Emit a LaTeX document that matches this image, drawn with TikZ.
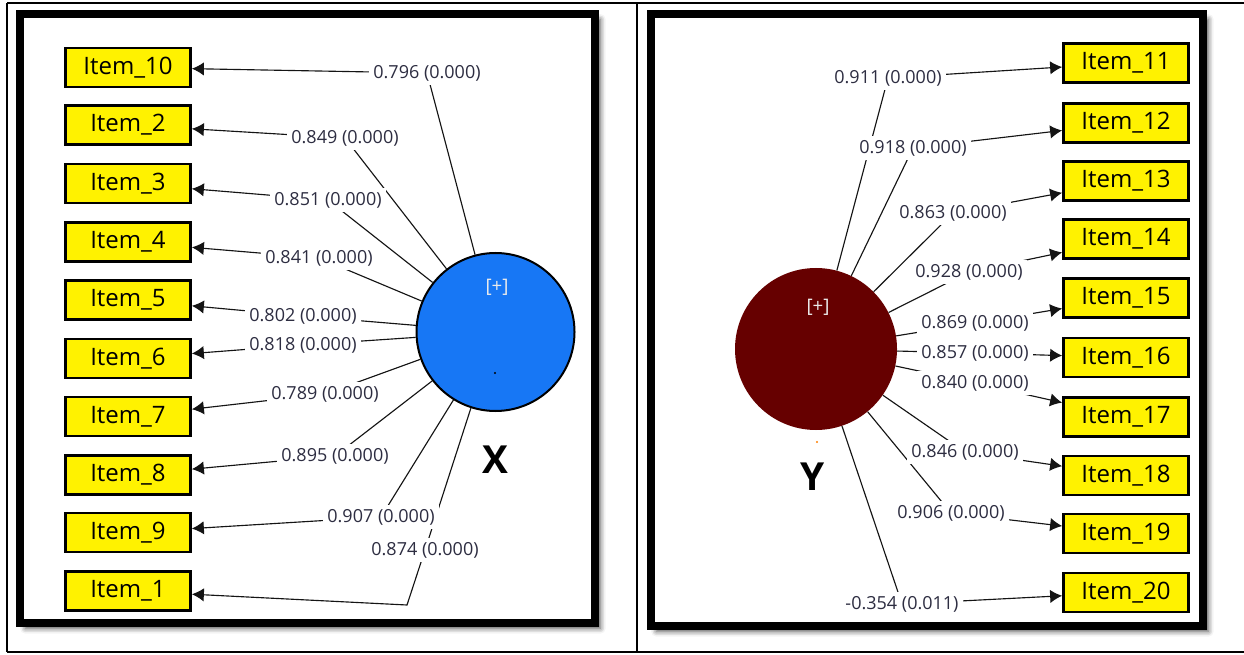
\documentclass[tikz,border=0pt]{standalone}
\usepackage{fontspec}
\setmainfont{Open Sans}
\usetikzlibrary{arrows.meta,shadows.blur}

\definecolor{xblue}{RGB}{23,119,245}
\definecolor{ydark}{RGB}{102,0,0}
\definecolor{loadtxt}{RGB}{45,45,65}

\begin{document}
\begin{tikzpicture}[x=0.75pt,y=0.75pt,yscale=-1,xscale=1,
	itembox/.style={draw=black,fill=yellow,line width=1.8pt,minimum width=94pt,minimum height=29pt,inner sep=0pt,font=\fontsize{18}{20}\selectfont},
	latent/.style={circle,minimum size=118.5pt,inner sep=0pt},
	loadline/.style={draw={rgb,255:red,20;green,20;blue,20},line width=0.85pt,-{Latex[length=9pt,width=10pt]}},
	loadlabel/.style={fill=white,inner sep=3pt,text=loadtxt,font=\fontsize{13.5}{15}\selectfont},
	panel/.style={draw=black,fill=white,line width=6pt,blur shadow={shadow xshift=4pt,shadow yshift=-4pt,shadow blur radius=4pt,shadow opacity=70}},
	plus/.style={text=white!92!black,font=\fontsize{14}{15}\selectfont,inner sep=0pt},
	lvname/.style={font=\bfseries\fontsize{29}{30}\selectfont,inner sep=0pt}
	]
	\useasboundingbox (0,0) rectangle (1244,655);
	
	%Table lines
	\draw [line width=1.5pt] (7,3) -- (1244,3) ;
	\draw [line width=1.5pt] (7,652) -- (1244,652) ;
	\draw [line width=1.5pt] (7,3) -- (7,652) ;
	\draw [line width=1.5pt] (637,3) -- (637,652) ;
	
	%Panels
	\draw [panel] (20,14) rectangle (595,623) ;
	\draw [panel] (651,14) rectangle (1203,626) ;
	
	% Latent variables
	\node [latent,draw=black,line width=1.5pt,fill=xblue] (X) at (495.5,332) {};
	\node [latent,minimum size=121.5pt,fill=ydark] (Y) at (816,349) {};
	\node [plus] (xplus) at (497,287) {[+]};
	\node [plus] (yplus) at (818,307) {[+]};
	\fill [black] (495,373) circle (1.2) ;
	\fill [orange] (817,442) circle (1.2) ;
	\node [lvname] (xname) at (495,460) {X};
	\node [lvname] (yname) at (813,477) {Y};
	
	% Indicators of X
	\node [itembox] (i10) at (128,67.5) {Item\_10};
	\node [itembox] (i2) at (128,125) {Item\_2};
	\node [itembox] (i3) at (128,183.5) {Item\_3};
	\node [itembox] (i4) at (128,242) {Item\_4};
	\node [itembox] (i5) at (128,300) {Item\_5};
	\node [itembox] (i6) at (128,358.5) {Item\_6};
	\node [itembox] (i7) at (128,416.5) {Item\_7};
	\node [itembox] (i8) at (128,475) {Item\_8};
	\node [itembox] (i9) at (128,532.5) {Item\_9};
	\node [itembox] (i1) at (128,591) {Item\_1};
	
	% Indicators of Y
	\node [itembox] (i11) at (1126,63) {Item\_11};
	\node [itembox] (i12) at (1126,123) {Item\_12};
	\node [itembox] (i13) at (1126,181) {Item\_13};
	\node [itembox] (i14) at (1126,239) {Item\_14};
	\node [itembox] (i15) at (1126,298) {Item\_15};
	\node [itembox] (i16) at (1126,357.5) {Item\_16};
	\node [itembox] (i17) at (1126,417) {Item\_17};
	\node [itembox] (i18) at (1126,475.5) {Item\_18};
	\node [itembox] (i19) at (1126,533.5) {Item\_19};
	\node [itembox] (i20) at (1126,592.5) {Item\_20};
	
	% Label points
	\coordinate (b10) at (427,73);
	\coordinate (b2) at (345,138);
	\coordinate (b3) at (328,200);
	\coordinate (b4) at (319,258);
	\coordinate (b5) at (303,316);
	\coordinate (b6) at (303,345);
	\coordinate (b7) at (325,394);
	\coordinate (b8) at (335,456);
	\coordinate (b9) at (381,517);
	\coordinate (b1) at (425,550);
	\coordinate (c1) at (407,605);
	\coordinate (b11) at (888,78);
	\coordinate (b12) at (913,148);
	\coordinate (b13) at (953,213);
	\coordinate (b14) at (969,272);
	\coordinate (b15) at (975,323);
	\coordinate (b16) at (975,353);
	\coordinate (b17) at (975,383);
	\coordinate (b18) at (965,452);
	\coordinate (b19) at (951,513);
	\coordinate (b20) at (902,604);
	
	%Outer loadings X
	\draw [loadline] (X) -- (b10) -- (i10) ;
	\draw [loadline] (X) -- (b2) -- (i2) ;
	\draw [loadline] (X) -- (b3) -- (i3) ;
	\draw [loadline] (X) -- (b4) -- (i4) ;
	\draw [loadline] (X) -- (b5) -- (i5) ;
	\draw [loadline] (X) -- (b6) -- (i6) ;
	\draw [loadline] (X) -- (b7) -- (i7) ;
	\draw [loadline] (X) -- (b8) -- (i8) ;
	\draw [loadline] (X) -- (b9) -- (i9) ;
	\draw [loadline] (X) -- (b1) -- (c1) -- (i1) ;
	
	%Outer loadings Y
	\draw [loadline] (Y) -- (b11) -- (i11) ;
	\draw [loadline] (Y) -- (b12) -- (i12) ;
	\draw [loadline] (Y) -- (b13) -- (i13) ;
	\draw [loadline] (Y) -- (b14) -- (i14) ;
	\draw [loadline] (Y) -- (b15) -- (i15) ;
	\draw [loadline] (Y) -- (b16) -- (i16) ;
	\draw [loadline] (Y) -- (b17) -- (i17) ;
	\draw [loadline] (Y) -- (b18) -- (i18) ;
	\draw [loadline] (Y) -- (b19) -- (i19) ;
	\draw [loadline] (Y) -- (b20) -- (i20) ;
	
	% Text Nodes
	\node [loadlabel] (l10) at (b10) {0.796 (0.000)};
	\node [loadlabel] (l2) at (b2) {0.849 (0.000)};
	\node [loadlabel] (l3) at (b3) {0.851 (0.000)};
	\node [loadlabel] (l4) at (b4) {0.841 (0.000)};
	\node [loadlabel] (l5) at (b5) {0.802 (0.000)};
	\node [loadlabel] (l6) at (b6) {0.818 (0.000)};
	\node [loadlabel] (l7) at (b7) {0.789 (0.000)};
	\node [loadlabel] (l8) at (b8) {0.895 (0.000)};
	\node [loadlabel] (l9) at (b9) {0.907 (0.000)};
	\node [loadlabel] (l1) at (b1) {0.874 (0.000)};
	\node [loadlabel] (l11) at (b11) {0.911 (0.000)};
	\node [loadlabel] (l12) at (b12) {0.918 (0.000)};
	\node [loadlabel] (l13) at (b13) {0.863 (0.000)};
	\node [loadlabel] (l14) at (b14) {0.928 (0.000)};
	\node [loadlabel] (l15) at (b15) {0.869 (0.000)};
	\node [loadlabel] (l16) at (b16) {0.857 (0.000)};
	\node [loadlabel] (l17) at (b17) {0.840 (0.000)};
	\node [loadlabel] (l18) at (b18) {0.846 (0.000)};
	\node [loadlabel] (l19) at (b19) {0.906 (0.000)};
	\node [loadlabel] (l20) at (b20) {-0.354 (0.011)};
\end{tikzpicture}
\end{document}
